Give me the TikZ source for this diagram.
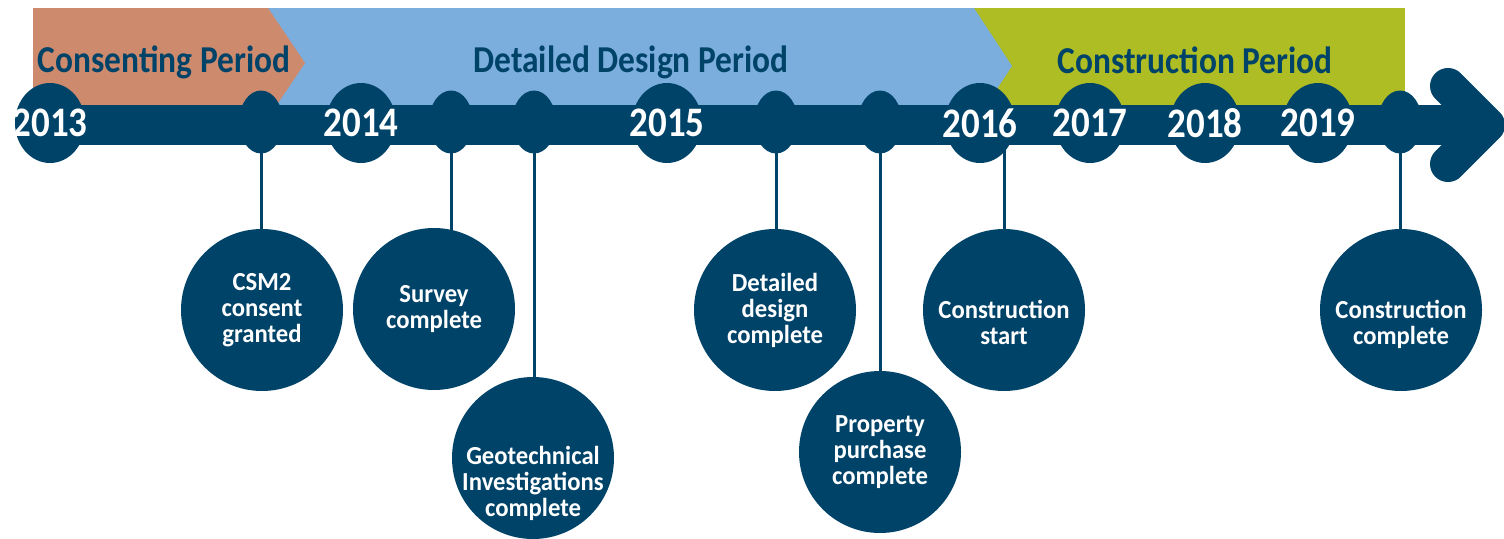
\documentclass[tikz,border=0pt]{standalone}
\usepackage{fontspec}
\usepackage{tikz}
\usetikzlibrary{shapes.geometric, backgrounds}
\newfontfamily\rotulo[FakeStretch=0.88]{Carlito}
\newfontfamily\rotuloevento[FakeStretch=0.95]{Carlito}
\definecolor{azulescuro}{RGB}{0,67,105}
\definecolor{salmao}{RGB}{205,138,109}
\definecolor{azulclaro}{RGB}{123,174,220}
\definecolor{oliva}{RGB}{175,189,36}

\begin{document}
\begin{tikzpicture}[x=1pt, y=-1pt,
    ano/.style={ellipse, fill=azulescuro, minimum width=70pt, minimum height=80pt, inner sep=0pt,
      text=white, font=\rotulo\bfseries\fontsize{42}{42}\selectfont},
    marco/.style={ellipse, fill=azulescuro, minimum width=44pt, minimum height=63pt, inner sep=0pt},
    evento/.style={circle, fill=azulescuro, minimum size=162pt, inner sep=0pt},
    textoevento/.style={align=center, inner sep=0pt, text=white, font=\rotuloevento\bfseries\fontsize{26}{26}\selectfont},
    periodo/.style={text=azulescuro, font=\rotulo\bfseries\fontsize{38}{38}\selectfont},
    haste/.style={azulescuro, line width=3pt}]
        \useasboundingbox (0,0) rectangle (1504,538);

        % Periodos
        \fill[oliva] (974,8) -- (1405,8) -- (1405,105) -- (974,105) -- cycle;
        \fill[azulclaro] (268,8) -- (974,8) -- (1012,66) -- (974,124) -- (268,124) -- cycle;
        \fill[salmao] (33,8) -- (268,8) -- (305,63) -- (268,118) -- (33,118) -- cycle;
        \node[periodo] (pconsent) at (164,62) {Consenting Period};
        \node[periodo] (pdesign) at (631,62) {Detailed Design Period};
        \node[periodo] (pconstr) at (1195,60) {Construction Period};

        % Linha do tempo
        \fill[azulescuro] (50,105) rectangle (1470,145);
        \draw[azulescuro, line width=36pt, line cap=round, line join=round]
          (1448,86) -- (1487,125) -- (1448,164);

        \node[ano] (a2013) at (50,123) {\makebox[0pt]{2013}};
        \node[ano] (a2014) at (361,123) {\makebox[0pt]{2014}};
        \node[ano] (a2015) at (667,123) {\makebox[0pt]{2015}};
        \node[ano] (a2016) at (980,123) {\makebox[0pt]{2016}};
        \node[ano] (a2017) at (1090,123) {\makebox[0pt]{2017}};
        \node[ano] (a2018) at (1205,123) {\makebox[0pt]{2018}};
        \node[ano] (a2019) at (1318,123) {\makebox[0pt]{2019}};

        \node[marco] (mcsm) at (261,122) {};
        \node[marco] (msurvey) at (451,122) {};
        \node[marco] (mgeo) at (534,122) {};
        \node[marco] (mdetail) at (776,122) {};
        \node[marco] (mproperty) at (880,122) {};
        \node[marco] (mcomplete) at (1400,122) {};

        % Eventos
        \node[evento] (ecsm) at (262,310) {};
        \node[evento] (esurvey) at (434,309) {};
        \node[evento] (egeo) at (533,458) {};
        \node[evento] (edetail) at (775,310) {};
        \node[evento] (eproperty) at (880,452) {};
        \node[evento] (estart) at (1004,310) {};
        \node[evento] (ecomplete) at (1401,310) {};

        \node[textoevento] (tcsm) at (ecsm) {CSM2\\consent\\granted};
        \node[textoevento] (tsurvey) at (esurvey) {Survey\\complete};
        \node[textoevento, yshift=-25pt] (tgeo) at (egeo) {Geotechnical\\Investigations\\complete};
        \node[textoevento] (tdetail) at (edetail) {Detailed\\design\\complete};
        \node[textoevento] (tproperty) at (eproperty) {Property\\purchase\\complete};
        \node[textoevento, yshift=-12pt] (tstart) at (estart) {Construction\\start};
        \node[textoevento, yshift=-14pt] (tcomplete) at (ecomplete) {Construction\\complete};

        % Hastes
        \begin{scope}[on background layer]
          \draw[haste] (mcsm.center) -- (mcsm |- ecsm.center);
          \draw[haste] (msurvey.center) -- (msurvey |- esurvey.center);
          \draw[haste] (mgeo.center) -- (mgeo |- egeo.center);
          \draw[haste] (mdetail.center) -- (mdetail |- edetail.center);
          \draw[haste] (mproperty.center) -- (mproperty |- eproperty.center);
          \draw[haste] (estart |- a2016.center) -- (estart.center);
          \draw[haste] (mcomplete.center) -- (mcomplete |- ecomplete.center);
        \end{scope}
\end{tikzpicture}
\end{document}
